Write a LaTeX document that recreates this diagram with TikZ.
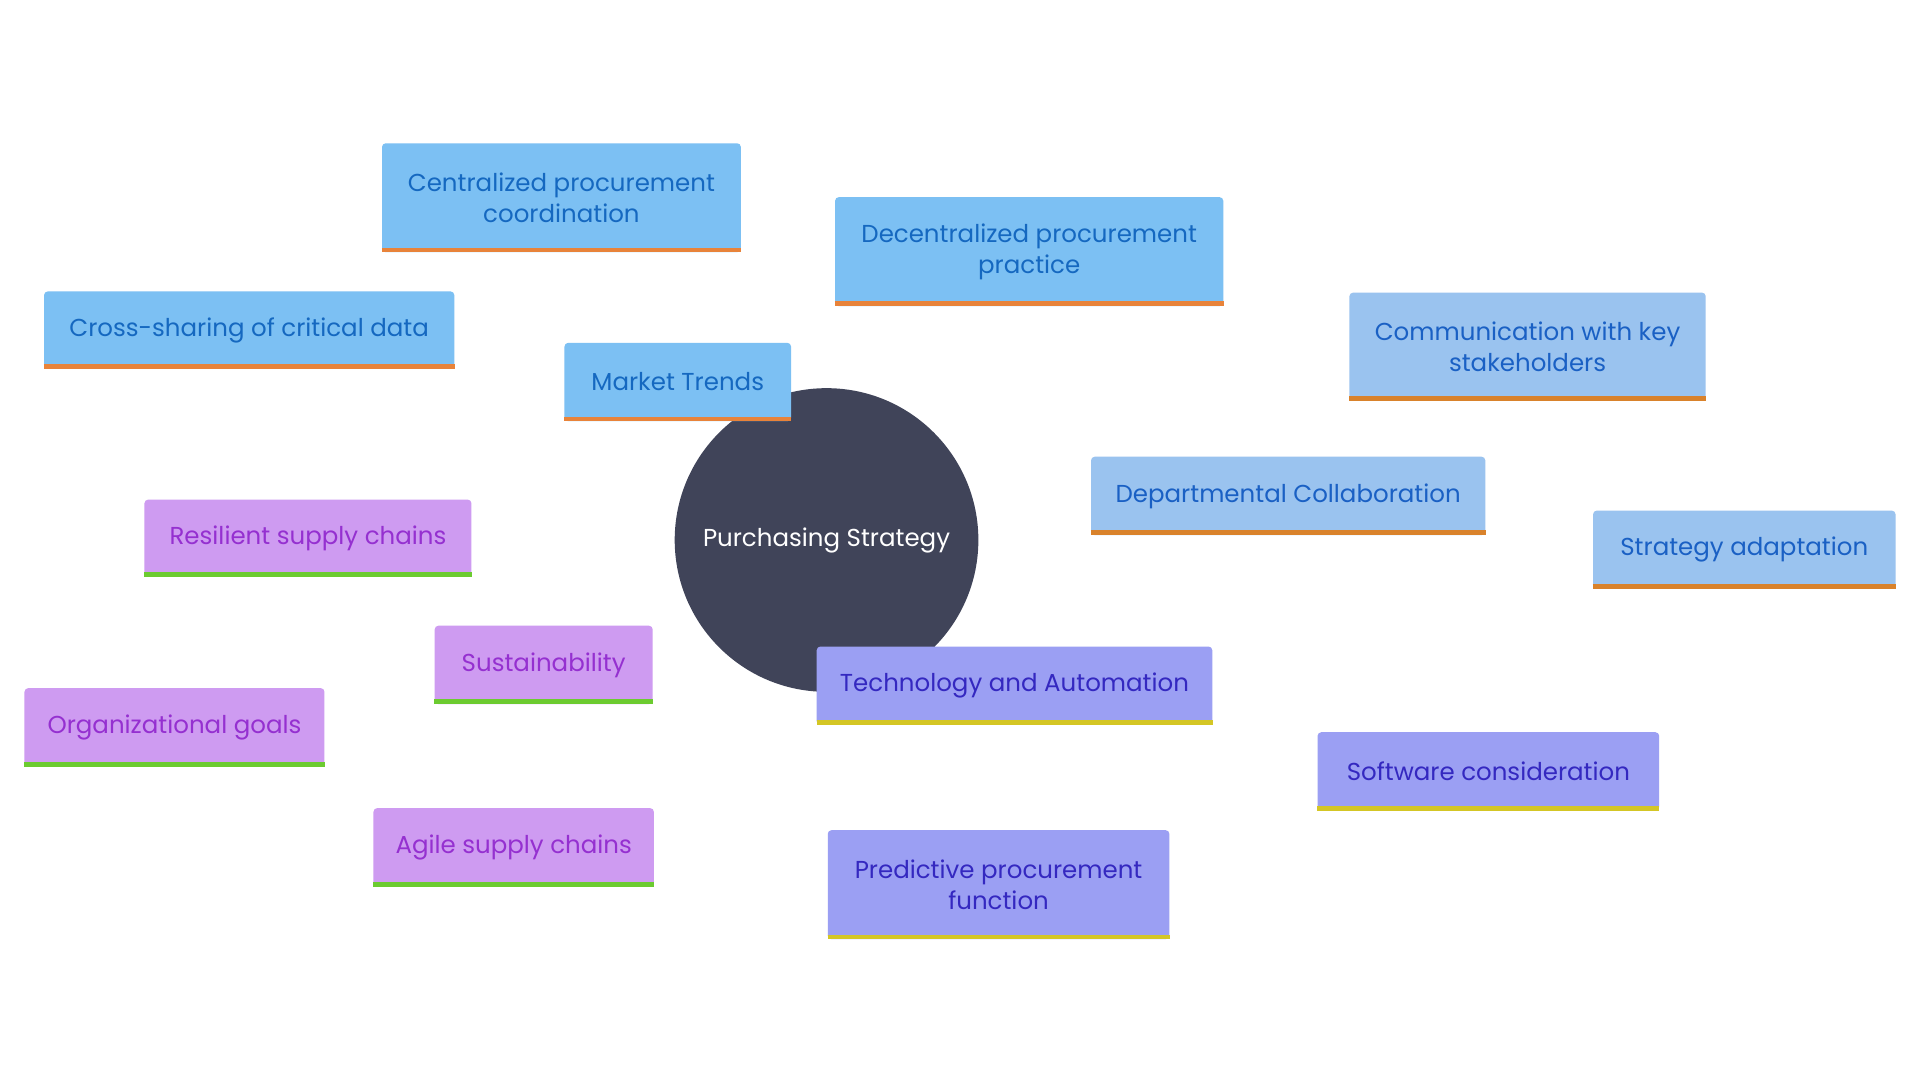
\documentclass[tikz,border=0pt]{standalone}
\usepackage{fontspec}
\setmainfont{Poppins}
\usetikzlibrary{backgrounds}
\definecolor{mtf}{HTML}{7CC0F3}\definecolor{mtt}{HTML}{1568C0}\definecolor{mtb}{HTML}{E8833A}
\definecolor{dcf}{HTML}{9AC3EF}\definecolor{dct}{HTML}{1A60C4}\definecolor{dcb}{HTML}{D9822B}
\definecolor{taf}{HTML}{9B9FF3}\definecolor{tat}{HTML}{3428C0}\definecolor{tab}{HTML}{D4C625}
\definecolor{suf}{HTML}{CE9BF1}\definecolor{sut}{HTML}{9530D0}\definecolor{sub}{HTML}{6CCB30}
\definecolor{ctr}{HTML}{404459}
\tikzset{
 box/.style={inner sep=0pt,align=center,font=\fontsize{20}{25}\selectfont,rounded corners=3pt},
 mt/.style={box,fill=mtf,text=mtt}, dc/.style={box,fill=dcf,text=dct},
 ta/.style={box,fill=taf,text=tat}, su/.style={box,fill=suf,text=sut},
 edge/.style={line width=4pt}
}
\newcommand{\bx}[8]{%
 \node[#7,minimum width={(#4)-(#2)},minimum height={(#5)-(#3)}] (#1) at ({((#2)+(#4))/2},{((#3)+(#5))/2}) {#6};
 \draw[line width=4pt,#8] ([yshift=2pt]#1.south west)--([yshift=2pt]#1.south east);}
\begin{document}
\begin{tikzpicture}[x=1pt,y=-1pt]
\useasboundingbox[fill=white] (0,0) rectangle (1568,882);
\node[circle,fill=ctr,minimum size=248pt,inner sep=0pt,text=white,font=\fontsize{20}{25}\selectfont] (c) at (675,441) {Purchasing Strategy};
\bx{mt}{461}{280}{646}{344}{Market Trends}{mt}{mtb}
\bx{ce}{312}{117}{605}{206}{Centralized procurement\\coordination}{mt}{mtb}
\bx{de}{682}{161}{999}{250}{Decentralized procurement\\practice}{mt}{mtb}
\bx{cr}{36}{238}{371}{301}{Cross-sharing of critical data}{mt}{mtb}
\bx{dc}{891}{373}{1213}{437}{Departmental Collaboration}{dc}{dcb}
\bx{co}{1102}{239}{1393}{327}{Communication with key\\stakeholders}{dc}{dcb}
\bx{sa}{1301}{417}{1548}{481}{Strategy adaptation}{dc}{dcb}
\bx{ta}{667}{528}{990}{592}{Technology and Automation}{ta}{tab}
\bx{so}{1076}{598}{1355}{662}{Software consideration}{ta}{tab}
\bx{pr}{676}{678}{955}{767}{Predictive procurement\\function}{ta}{tab}
\bx{su}{355}{511}{533}{575}{Sustainability}{su}{sub}
\bx{re}{118}{408}{385}{471}{Resilient supply chains}{su}{sub}
\bx{og}{20}{562}{265}{626}{Organizational goals}{su}{sub}
\bx{ag}{305}{660}{534}{724}{Agile supply chains}{su}{sub}
\begin{pgfonlayer}{background}
\draw[edge,mtf] (c.center)--(mt.center);
\draw[edge,mtf] (mt.center)--(ce.center);
\draw[edge,mtf] (mt.center)--(de.center);
\draw[edge,mtf] (mt.center)--(cr.center);
\draw[edge,dcf] (c.center)--(dc.center);
\draw[edge,dcf] (dc.center)--(co.center);
\draw[edge,dcf] (dc.center)--(sa.center);
\draw[edge,taf] (c.center)--(ta.center);
\draw[edge,taf] (ta.center)--(so.center);
\draw[edge,taf] (ta.center)--(pr.center);
\draw[edge,suf] (c.center)--(su.center);
\draw[edge,suf] (su.center)--(re.center);
\draw[edge,suf] (su.center)--(og.center);
\draw[edge,suf] (su.center)--(ag.center);
\end{pgfonlayer}
\end{tikzpicture}
\end{document}
